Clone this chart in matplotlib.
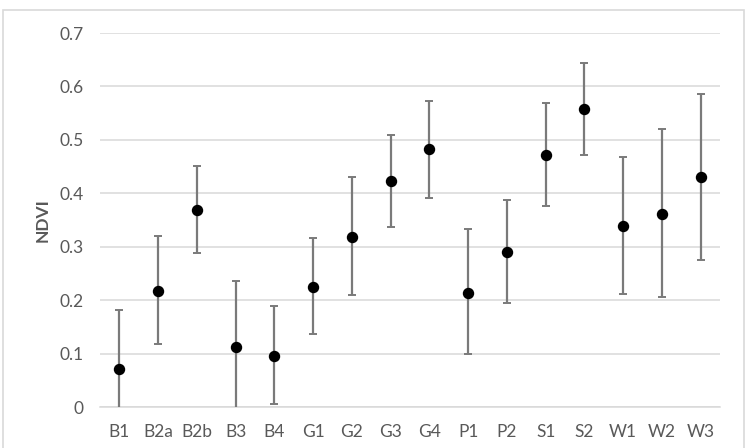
import numpy as np
import matplotlib
matplotlib.use("Agg")
import matplotlib.pyplot as plt
from matplotlib.patches import Rectangle

# site labels and NDVI means with error bar extents
sites = ["B1", "B2a", "B2b", "B3", "B4", "G1", "G2", "G3",
         "G4", "P1", "P2", "S1", "S2", "W1", "W2", "W3"]
ndvi = [0.072, 0.218, 0.369, 0.112, 0.096, 0.225, 0.319, 0.423,
        0.482, 0.214, 0.291, 0.472, 0.557, 0.339, 0.362, 0.430]
err_up = [0.110, 0.102, 0.083, 0.123, 0.093, 0.091, 0.112, 0.086,
          0.091, 0.119, 0.097, 0.097, 0.087, 0.129, 0.158, 0.155]
err_down = [0.110, 0.100, 0.081, 0.123, 0.090, 0.088, 0.110, 0.087,
            0.091, 0.115, 0.097, 0.095, 0.085, 0.127, 0.156, 0.154]
yticks = [0, 0.1, 0.2, 0.3, 0.4, 0.5, 0.6, 0.7]

plt.rcParams['font.family'] = ['Lato', 'DejaVu Sans']

fig = plt.figure(figsize=(7.52, 4.48), dpi=100)
fig.patches.append(Rectangle((3 / 752, -0.1), 741 / 752, 1.1 - 10 / 448,
                             transform=fig.transFigure, fill=False,
                             edgecolor="#d9d9d9", linewidth=1.2))
ax = fig.add_axes([100 / 752, 1 - 407 / 448, 620 / 752, 374 / 448])

x = np.arange(len(sites))
ax.errorbar(x, ndvi, yerr=[err_down, err_up], fmt="o", color="black",
            markersize=7.2, ecolor="#7a7a7a", elinewidth=1.6, capsize=3,
            capthick=1.4, zorder=3)

ax.set_xlim(-0.5, len(sites) - 0.5)
ax.set_ylim(0, 0.7)
ax.set_yticks(yticks)
ax.set_yticklabels([f"{v:g}" for v in yticks])
ax.set_xticks(x)
ax.set_xticklabels(sites)
ax.grid(axis="y", color="#d9d9d9", linewidth=1.1)
ax.set_axisbelow(True)
for s in ["top", "right", "left"]:
    ax.spines[s].set_visible(False)
ax.spines["bottom"].set_color("#d9d9d9")
ax.spines["bottom"].set_linewidth(1.1)
ax.tick_params(axis="both", length=0, labelsize=12.5, colors="#595959")
ax.tick_params(axis="x", pad=12)
ax.tick_params(axis="y", pad=12)
ax.set_ylabel("NDVI", fontsize=12.5, color="#595959", fontweight="bold",
              labelpad=6)

fig.savefig("out.png", dpi=100)
